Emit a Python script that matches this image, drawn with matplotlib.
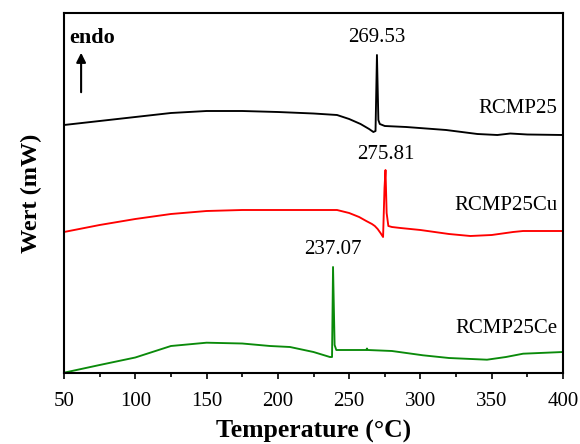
import matplotlib
matplotlib.use("Agg")
import matplotlib.pyplot as plt

plt.rcParams['font.family'] = ['Liberation Serif', 'DejaVu Serif']

# RCMP25 (black)
t_black = [50, 75, 100, 125, 150, 175, 200, 225, 241.5, 250, 258, 264, 267, 268.5, 269.5, 270.5, 271.5, 275, 290, 318, 340, 354, 363, 375, 400]
y_black = [248, 252, 256, 260, 262, 262, 261, 259.5, 258, 254, 249, 244, 241, 242, 318, 253, 249, 247, 246, 243, 239, 238, 239.5, 238.5, 238]

# RCMP25Cu (red)
t_red = [50, 75, 100, 125, 150, 175, 200, 225, 241.5, 250, 257, 262, 266, 268, 270, 272, 273.8, 274.8, 275.5, 276.3, 277.5, 280, 286, 300, 320, 335, 350, 365, 372, 400]
y_red = [141, 148, 154, 159, 162, 163, 163, 163, 163, 160, 156, 152, 149, 147, 144, 140, 136, 185, 203, 160, 147, 146, 145, 143, 139, 137, 138, 141, 142, 142]

# RCMP25Ce (green)
t_green = [50, 75, 100, 125, 150, 175, 194.5, 208.5, 225, 236.5, 238, 238.7, 239.8, 241, 250, 262, 262.5, 263, 280, 301.8, 320, 346.7, 360, 372, 400]
y_green = [0.3, 8, 15.5, 27, 30.3, 29.5, 27, 26, 21, 16, 16, 106, 28, 23, 23, 23, 24.5, 23, 22, 17.7, 15, 13.3, 16, 19.3, 21]

peak_labels = ["269.53", "275.81", "237.07"]
peak_pos = [(269.5, 326), (275.5, 209), (238.7, 114)]
names = ["RCMP25", "RCMP25Cu", "RCMP25Ce"]
name_y = [255, 158, 35]
x_ticks = [50, 100, 150, 200, 250, 300, 350, 400]

fig = plt.figure(figsize=(5.8, 4.44), dpi=100)
ax = fig.add_axes([64/580, 71/444, 499/580, 360/444])

ax.plot(t_black, y_black, color='black', lw=1.35)
ax.plot(t_red, y_red, color='#ff0000', lw=1.35)
ax.plot(t_green, y_green, color='#0a8a0a', lw=1.35)

ax.set_xlim(50, 400)
ax.set_ylim(0, 360)
ax.set_xticks(x_ticks)
ax.set_xticks([75, 125, 175, 225, 275, 325, 375], minor=True)
ax.set_yticks([])
ax.tick_params(axis='x', which='major', direction='out', length=4, width=1.2, labelsize=15, pad=10)
ax.tick_params(axis='x', which='minor', direction='out', length=3, width=1.2)
for s in ax.spines.values():
    s.set_linewidth(1.5)

for lab, (x, y) in zip(peak_labels, peak_pos):
    ax.text(x, y, lab, ha='center', va='bottom', fontsize=15)
for nm, y in zip(names, name_y):
    ax.text(396, y, nm, ha='right', va='bottom', fontsize=15)

ax.text(54, 325, "endo", fontsize=16, fontweight='bold', ha='left', va='bottom')
ax.annotate("", xy=(62, 323), xytext=(62, 278),
            arrowprops=dict(arrowstyle='-|>', color='black', lw=1.5, mutation_scale=14))

ax.set_xlabel("Temperature (°C)", fontsize=18.5, fontweight='bold', labelpad=6)
ax.set_ylabel("Wert (mW)", fontsize=17.5, fontweight='bold', labelpad=16)

fig.savefig("out.png", dpi=100)
